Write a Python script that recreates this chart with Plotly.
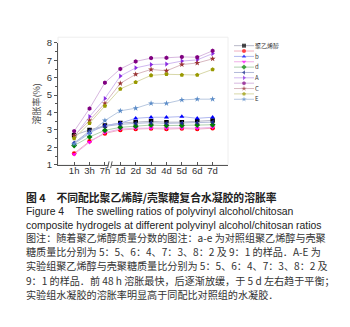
import plotly.graph_objects as go

W, H = 350, 327

categories = ["1h", "3h", "7h", "1d", "2d", "3d", "4d", "5d", "6d", "7d"]

series_names = ["聚乙烯醇", "a", "b", "c", "d", "e", "A", "B", "C", "D", "E"]
pva = [2.70, 3.00, 3.25, 3.40, 3.45, 3.50, 3.45, 3.45, 3.50, 3.55]
s_a = [1.65, 2.35, 2.80, 3.00, 3.05, 3.08, 3.05, 3.08, 3.05, 3.10]
s_b = [2.25, 2.85, 3.25, 3.39, 3.67, 3.73, 3.73, 3.77, 3.67, 3.73]
s_c = [1.60, 2.30, 2.85, 3.05, 3.10, 3.12, 3.10, 3.12, 3.10, 3.15]
s_d = [2.10, 2.60, 2.98, 3.15, 3.22, 3.28, 3.25, 3.25, 3.28, 3.30]
s_e = [2.25, 2.95, 3.21, 3.32, 3.38, 3.42, 3.38, 3.40, 3.42, 3.45]
s_A = [2.60, 3.77, 4.81, 6.10, 6.57, 6.76, 6.79, 6.96, 7.03, 7.39]
s_B = [2.93, 4.23, 5.72, 6.51, 6.94, 7.13, 7.15, 7.20, 7.18, 7.55]
s_C = [2.67, 3.55, 4.53, 5.68, 6.20, 6.48, 6.40, 6.76, 6.85, 7.09]
s_D = [2.52, 3.39, 4.38, 5.36, 5.75, 6.14, 6.20, 6.16, 6.16, 6.48]
s_E = [2.20, 2.80, 3.54, 4.10, 4.25, 4.53, 4.53, 4.73, 4.77, 4.77]
all_values = [pva, s_a, s_b, s_c, s_d, s_e, s_A, s_B, s_C, s_D, s_E]

marker_colors = ["#000000", "#ff0000", "#0000ff", "#ff00ff", "#008000", "#1a2a8c",
                 "#8a2be2", "#800080", "#993333", "#999900", "#5b8cc8"]
line_colors = ["#b8b8c8", "#f0b0c0", "#b0b8f0", "#f0b0e8", "#b0d0b0", "#b0b8d8",
               "#d0b8f0", "#d8b8e0", "#d8b8c0", "#d8d8a8", "#b8c8e0"]
symbols = ["square", "circle", "triangle-up", "triangle-down", "diamond", "triangle-left",
           "triangle-right", "hexagon", "star", "pentagon", "star"]

y_ticks = [1, 2, 3, 4, 5, 6, 7, 8]
y_title = "溶胀率(%)"

title_line = "图 4　不同配比聚乙烯醇/壳聚糖复合水凝胶的溶胀率"
english_lines = [
    "Figure 4&nbsp;&nbsp;&nbsp;&nbsp;The swelling ratios of polyvinyl alcohol/chitosan",
    "composite hydrogels at different polyvinyl alcohol/chitosan ratios",
]
note_lines = [
    "图注：随着聚乙烯醇质量分数的图注：a-e 为对照组聚乙烯醇与壳聚",
    "糖质量比分别为 5：5、6：4、7：3、8：2 及 9：1 的样品．A-E 为",
    "实验组聚乙烯醇与壳聚糖质量比分别为 5：5、6：4、7：3、8：2 及",
    "9：1 的样品．前 48 h 溶胀最快，后逐渐放缓，于 5 d 左右趋于平衡；",
    "实验组水凝胶的溶胀率明显高于同配比对照组的水凝胶．",
]

fig = go.Figure()

for name, vals, mc, lc, sym in zip(series_names, all_values, marker_colors, line_colors, symbols):
    fig.add_trace(go.Scatter(
        x=categories, y=vals, mode="lines+markers", name=name,
        line=dict(color=lc, width=1),
        marker=dict(color=mc, symbol=sym, size=4.5, line=dict(width=0)),
        showlegend=False, xaxis="x", yaxis="y",
    ))

# compact legend drawn on auxiliary axes
for name, mc, lc, sym in zip(series_names, marker_colors, line_colors, symbols):
    fig.add_trace(go.Scatter(
        x=[0, 1, 2], y=[name, name, name], mode="lines+markers",
        line=dict(color=lc, width=1),
        marker=dict(color=mc, symbol=sym, size=[0, 4, 0], line=dict(width=0)),
        showlegend=False, xaxis="x2", yaxis="y2", hoverinfo="skip",
    ))


def px_x(p):
    return p / W


def px_y(p):
    return 1 - p / H


fig.update_layout(
    width=W, height=H,
    margin=dict(l=0, r=0, t=0, b=0),
    paper_bgcolor="white", plot_bgcolor="white",
    font=dict(family="Liberation Sans, Arial", size=9, color="#333333"),
    xaxis=dict(
        domain=[px_x(50), px_x(220)],
        type="category", categoryorder="array", categoryarray=categories,
        range=[-1.05, 10.0],
        showline=True, linecolor="#555555", linewidth=1,
        ticks="inside", ticklen=3, tickcolor="#555555",
        minor=dict(ticks="inside", ticklen=2, tickcolor="#555555"),
        showgrid=False, zeroline=False,
        tickfont=dict(size=9.5, color="#333333"),
        ticklabelstandoff=-3,
        anchor="y",
    ),
    yaxis=dict(
        domain=[px_y(156), px_y(30)],
        range=[1, 8], tickvals=y_ticks,
        showline=True, linecolor="#555555", linewidth=1,
        ticks="outside", ticklen=3, tickcolor="#555555",
        minor=dict(ticks="outside", ticklen=2, dtick=0.5, tickcolor="#555555"),
        showgrid=False, zeroline=False,
        tickfont=dict(size=9.5, color="#333333"),
        title=dict(text=y_title, font=dict(size=9, color="#444444",
                   family="Noto Sans CJK SC"), standoff=4),
        anchor="x",
    ),
    xaxis2=dict(domain=[px_x(226), px_x(246)], range=[0, 2], visible=False, anchor="y2"),
    yaxis2=dict(
        domain=[px_y(91), px_y(30)], type="category",
        categoryorder="array", categoryarray=series_names[::-1],
        range=[-0.5, len(series_names) - 0.5],
        side="right", showline=False, showgrid=False, zeroline=False, ticks="",
        tickfont=dict(size=6, color="#333333", family="Noto Sans CJK SC"),
        anchor="x2",
    ),
)

# faint frame
fig.add_shape(type="rect", xref="paper", yref="paper",
              x0=px_x(50), x1=px_x(220), y0=px_y(156), y1=px_y(24),
              line=dict(color="#eeeeee", width=1), layer="below")

# axis break mark: gap in the axis line plus two slashes
y_axis_px = 156
fig.add_shape(type="rect", xref="x", yref="paper",
              x0=2.22, x1=2.42, y0=px_y(y_axis_px + 1.5), y1=px_y(y_axis_px - 1.5),
              fillcolor="white", line=dict(width=0), layer="above")
for xs in (2.17, 2.37):
    fig.add_shape(type="line", xref="x", yref="paper",
                  x0=xs, x1=xs + 0.1, y0=px_y(y_axis_px + 3.5), y1=px_y(y_axis_px - 3.5),
                  line=dict(color="#555555", width=1), layer="above")

fig.add_annotation(
    x=px_x(16), y=px_y(189.5), xref="paper", yref="paper",
    xanchor="left", yanchor="middle", showarrow=False,
    text=f"<b>{title_line}</b>",
    font=dict(size=10.8, color="#222222", family="Noto Sans CJK SC"),
)
fig.add_annotation(
    x=px_x(16), y=px_y(196.5), xref="paper", yref="paper",
    xanchor="left", yanchor="top", showarrow=False, align="left",
    text="<br>".join(english_lines),
    font=dict(size=10.4, color="#222222", family="Liberation Sans"),
)
fig.add_annotation(
    x=px_x(16), y=px_y(221.5), xref="paper", yref="paper",
    xanchor="left", yanchor="top", showarrow=False, align="left",
    text="<br>".join(f'<span style="font-size:10.1px">{t}</span>' for t in note_lines),
    font=dict(size=10.9, color="#333333", family="Noto Sans CJK SC"),
)

fig.write_html("out.html")
